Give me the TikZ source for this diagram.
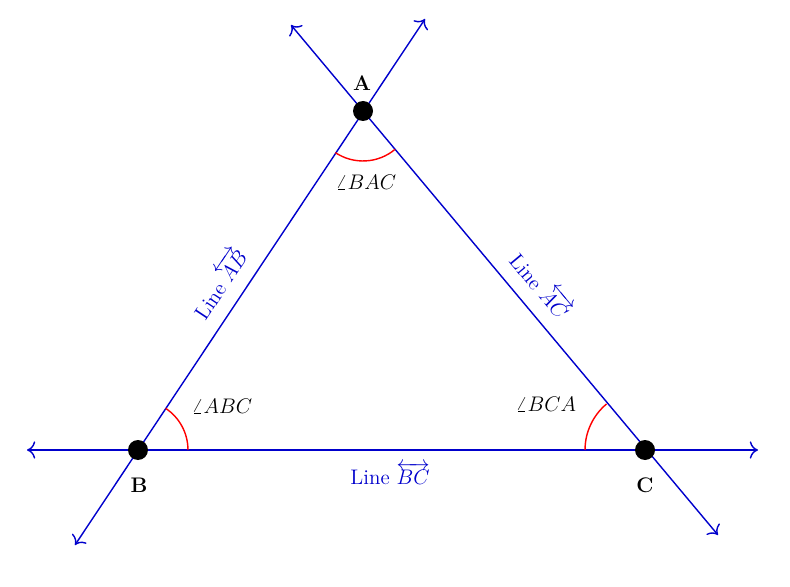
\documentclass[tikz,border=0pt]{standalone}
\usepackage{amsmath}
\usetikzlibrary{arrows.meta}
\begin{document}
\begin{tikzpicture}[x=0.02cm,y=-0.02cm, every node/.style={font=\large}, >={To[scale=1.4]}]
\useasboundingbox (0,0) rectangle (790,587);
\coordinate (ab0) at (75,545);
\coordinate (ab1) at (425,19);
\coordinate (ac0) at (291,25);
\coordinate (ac1) at (718,535);
\coordinate (bc0) at (27,450);
\coordinate (bc1) at (758,450);
\draw[blue!80!black, thick, <->] (ab0) -- (ab1);
\draw[blue!80!black, thick, <->] (ac0) -- (ac1);
\draw[blue!80!black, thick, <->] (bc0) -- (bc1);
\node[circle, inner sep=0pt, minimum size=0.4cm, fill] (A) at (363,111){};
\node[circle, inner sep=0pt, minimum size=0.4cm, fill] (B) at (138,450){};
\node[circle, inner sep=0pt, minimum size=0.4cm, fill] (C) at (645,450){};
\node[font=\large\bfseries] (lA) at (362,83){A};
\node[font=\large\bfseries] (lB) at (139,485){B};
\node[font=\large\bfseries] (lC) at (645,485){C};
\draw[red, thick] (A.center) ++(236.4:1cm) arc (236.4:309.8:1cm);
\draw[red, thick] (B.center) ++(0:1cm) arc (0:56.4:1cm);
\draw[red, thick] (C.center) ++(180:1.2cm) arc (180:129.8:1.2cm);
\node (aA) at (366,182){$\angle BAC$};
\node (aB) at (222,406){$\angle ABC$};
\node (aC) at (546,404){$\angle BCA$};
\node[blue!80!black, rotate=56.4] (tAB) at (218,283){Line $\overleftrightarrow{AB}$};
\node[blue!80!black, rotate=-50.2] (tAC) at (542,284){Line $\overleftrightarrow{AC}$};
\node[blue!80!black] (tBC) at (390,474){Line $\overleftrightarrow{BC}$};
\end{tikzpicture}
\end{document}
